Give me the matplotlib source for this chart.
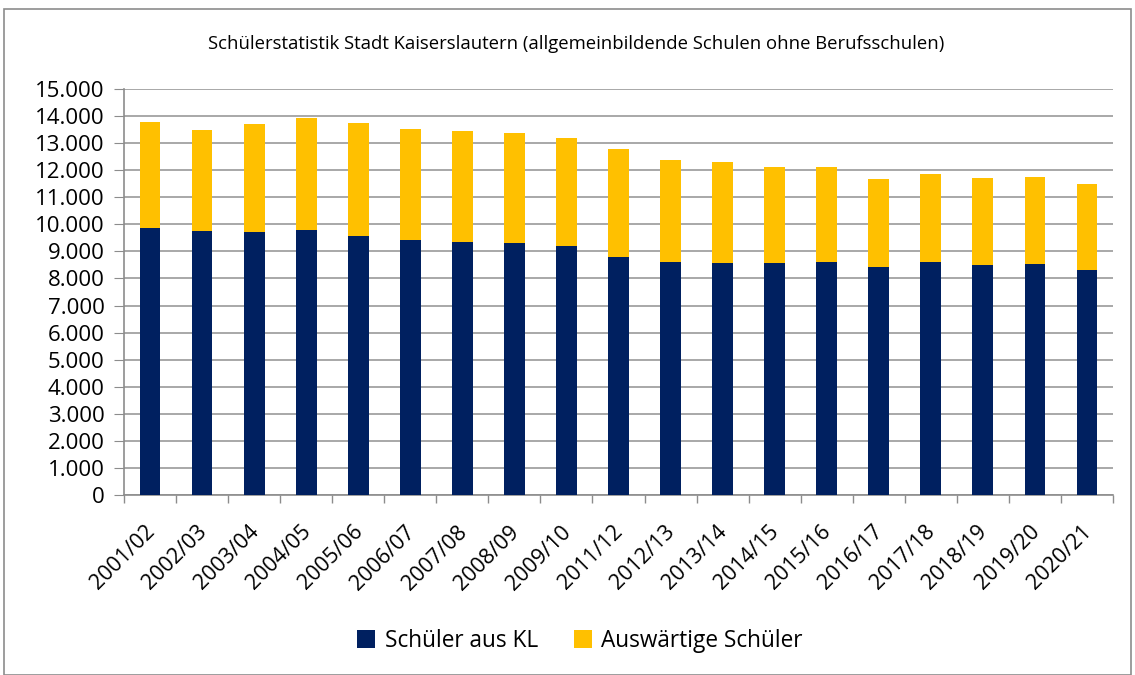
import matplotlib
matplotlib.use("Agg")
import matplotlib.pyplot as plt
import matplotlib.transforms as mtransforms
from matplotlib.ticker import FuncFormatter, MultipleLocator, FixedLocator
from matplotlib.patches import Rectangle

categories = ["2001/02", "2002/03", "2003/04", "2004/05", "2005/06", "2006/07",
              "2007/08", "2008/09", "2009/10", "2011/12", "2012/13", "2013/14",
              "2014/15", "2015/16", "2016/17", "2017/18", "2018/19", "2019/20",
              "2020/21"]
totals = [13770, 13470, 13705, 13915, 13742, 13520, 13458, 13360, 13177, 12779,
          12384, 12310, 12125, 12114, 11683, 11845, 11720, 11760, 11500]
schueler_kl = [9880, 9756, 9720, 9804, 9583, 9435, 9350, 9300, 9188, 8804,
               8590, 8565, 8565, 8620, 8410, 8600, 8510, 8520, 8325]
auswaertige = [t - k for t, k in zip(totals, schueler_kl)]

NAVY = "#002060"
GOLD = "#FFC000"

plt.rcParams['font.family'] = ['Open Sans', 'DejaVu Sans']

W, H = 1135, 675
fig = plt.figure(figsize=(W/100, H/100), dpi=100)
ax = fig.add_axes([124/W, 1-495/H, (1113-124)/W, (495-89)/H])

x = list(range(len(categories)))
ax.bar(x, schueler_kl, width=0.4, color=NAVY, label="Schüler aus KL", zorder=3)
ax.bar(x, auswaertige, bottom=schueler_kl, width=0.4, color=GOLD,
       label="Auswärtige Schüler", zorder=3)

ax.set_xlim(-0.5, len(categories)-0.5)
ax.set_ylim(0, 15000)
ax.yaxis.set_major_locator(MultipleLocator(1000))
ax.yaxis.set_major_formatter(FuncFormatter(lambda v, p: f"{int(v):,}".replace(",", ".")))
ax.grid(axis='y', color="#9a9a9a", linewidth=1.2, zorder=0)
ax.set_axisbelow(True)

ax.set_xticks(x)
ax.set_xticklabels(categories, rotation=45, ha='right', va='top',
                   rotation_mode='anchor', fontsize=15.5)
ax.tick_params(axis='x', which='major', length=0, pad=19)
offset = mtransforms.ScaledTranslation(-6/100, 0, fig.dpi_scale_trans)
for lab in ax.get_xticklabels():
    lab.set_transform(lab.get_transform() + offset)
ax.xaxis.set_minor_locator(FixedLocator([i + 0.5 for i in range(-1, len(categories))]))
ax.tick_params(axis='x', which='minor', length=6, color="#8c8c8c", width=1)
ax.tick_params(axis='y', length=7, labelsize=16, color="#8c8c8c", pad=7)

for s in ['top', 'right']:
    ax.spines[s].set_visible(False)
ax.spines['left'].set_color("#8c8c8c")
ax.spines['bottom'].set_color("#8c8c8c")
ax.spines['left'].set_linewidth(1.2)
ax.spines['bottom'].set_linewidth(1.2)

fig.text(576/W, 1-44/H,
         "Schülerstatistik Stadt Kaiserslautern (allgemeinbildende Schulen ohne Berufsschulen)",
         ha='center', va='center', fontsize=13.3)

fig.legend(loc='center', bbox_to_anchor=(580/W, 1-641/H), ncol=2, frameon=False,
           fontsize=16.3, handlelength=0.8, handleheight=0.8, columnspacing=1.6,
           handletextpad=0.4)

fig.patches.append(Rectangle((4/W, 0), (1131-4)/W, 1-9/H, transform=fig.transFigure,
                             fill=False, edgecolor="#8c8c8c", linewidth=1.2))

fig.savefig("out.png", dpi=100)
